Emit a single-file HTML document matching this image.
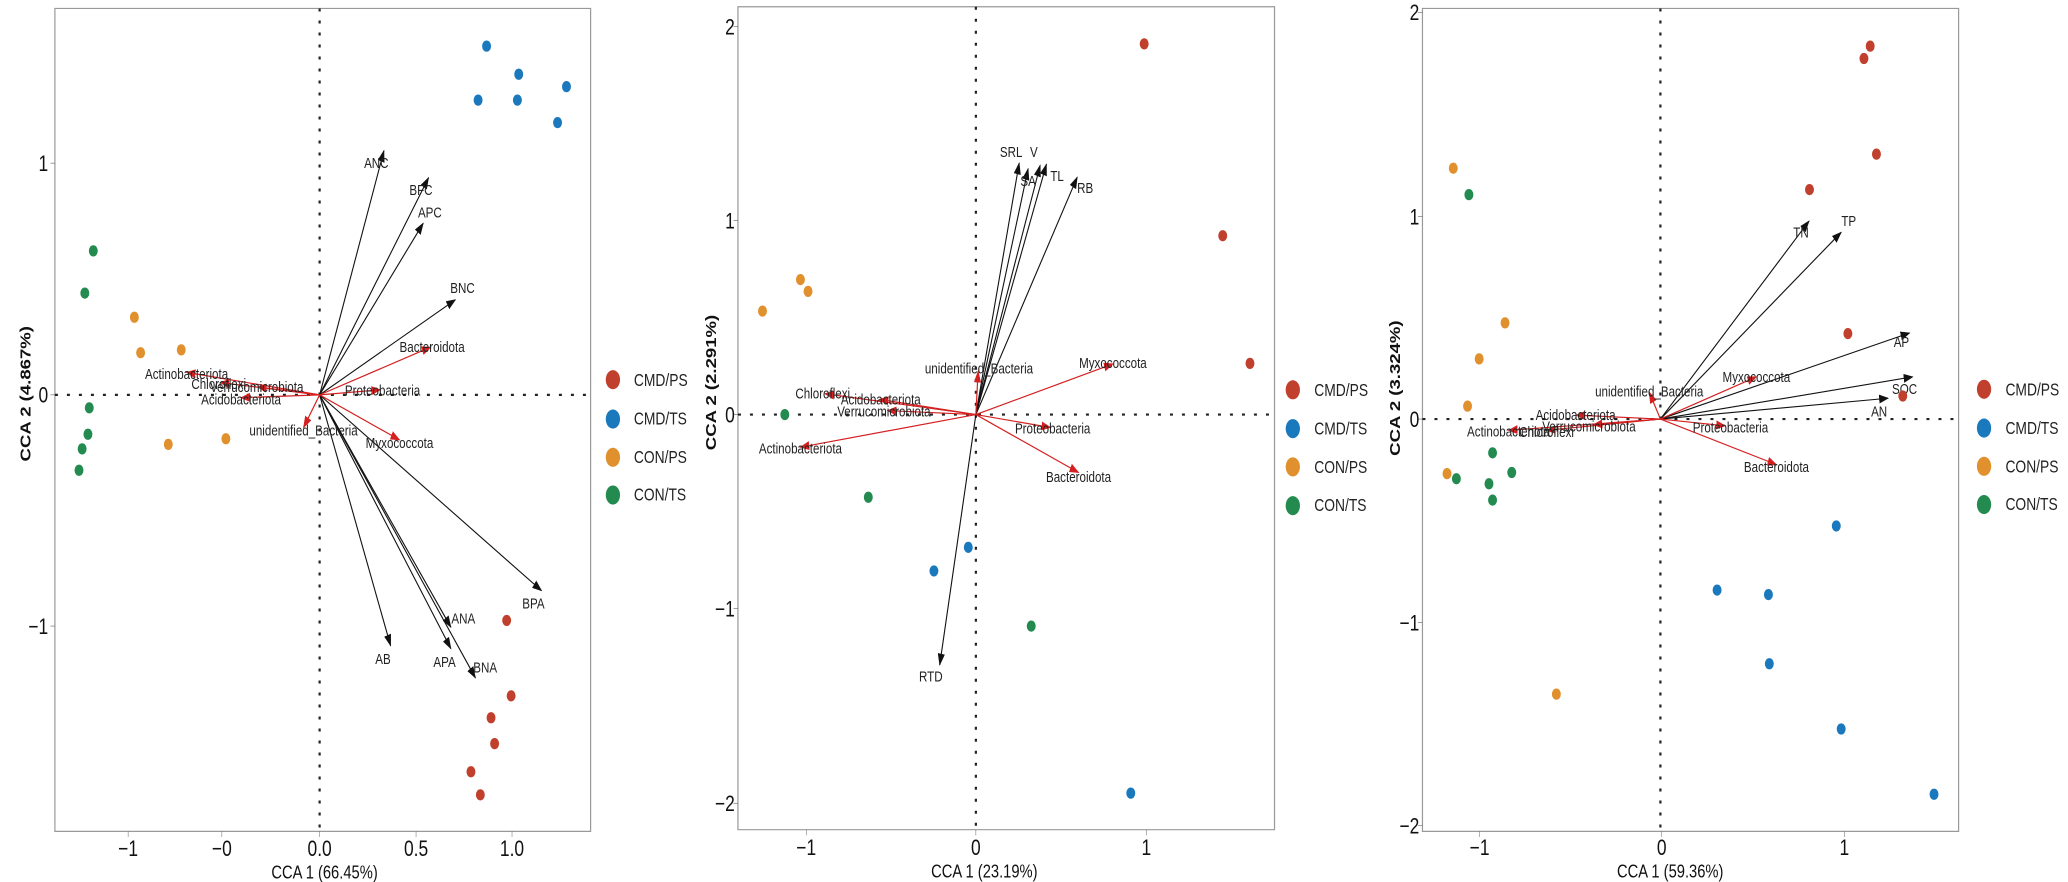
<!DOCTYPE html>
<html><head><meta charset="utf-8"><style>
html,body{margin:0;padding:0;background:#fff;}
svg{display:block;font-family:"Liberation Sans",Arial,sans-serif;}
.bx{fill:none;stroke:#999;stroke-width:1.2;vector-effect:non-scaling-stroke;}
.z{stroke:#222;stroke-width:2.2;stroke-dasharray:3 9;vector-effect:non-scaling-stroke;}
.ba{stroke:#111;stroke-width:1.1;vector-effect:non-scaling-stroke;marker-end:url(#ab);}
.ra{stroke:#d42020;stroke-width:1.2;vector-effect:non-scaling-stroke;marker-end:url(#ar);}
.lb{font-size:26px;fill:#222;text-anchor:middle;dominant-baseline:central;}
.tk{font-size:39px;fill:#111;}
.tt{font-size:33px;fill:#111;text-anchor:middle;}
.yt{font-weight:bold;}
.lg{font-size:31px;fill:#222;dominant-baseline:central;}
.tm{stroke:#555;stroke-width:1;vector-effect:non-scaling-stroke;}
.r{fill:#c0402d}.b{fill:#1a78bd}.o{fill:#e0902c}.g{fill:#238a50}
</style></head><body>
<svg width="2068" height="882" viewBox="0 0 2068 882" xmlns="http://www.w3.org/2000/svg">
<defs>
<marker id="ab" markerUnits="userSpaceOnUse" markerWidth="22" markerHeight="16" refX="20" refY="8" orient="auto"><path d="M0,0 L22,8 L0,16 z" fill="#111"/></marker>
<marker id="ar" markerUnits="userSpaceOnUse" markerWidth="22" markerHeight="16" refX="20" refY="8" orient="auto"><path d="M0,0 L22,8 L0,16 z" fill="#d42020"/></marker>
</defs>

<!-- PANEL 1 -->
<g transform="translate(0,0) scale(0.4464,0.5625)">
<rect class="bx" x="123" y="15" width="1200" height="1463"/>
<line class="z" x1="716" y1="15" x2="716" y2="1478"/>
<line class="z" x1="123" y1="702" x2="1323" y2="702"/>
<g class="tm"><line x1="287" y1="1478" x2="287" y2="1488"/><line x1="497" y1="1478" x2="497" y2="1488"/><line x1="716" y1="1478" x2="716" y2="1488"/><line x1="932" y1="1478" x2="932" y2="1488"/><line x1="1147" y1="1478" x2="1147" y2="1488"/>
<line x1="113" y1="290" x2="123" y2="290"/><line x1="113" y1="702" x2="123" y2="702"/><line x1="113" y1="1113" x2="123" y2="1113"/></g>
<g class="tk" text-anchor="middle"><text x="287" y="1522">−1</text><text x="497" y="1522">−0</text><text x="716" y="1522">0.0</text><text x="932" y="1522">0.5</text><text x="1147" y="1522">1.0</text></g>
<g class="tk" text-anchor="end"><text x="108" y="304">1</text><text x="108" y="716">0</text><text x="108" y="1127">−1</text></g>
<text class="tt" x="727" y="1562">CCA 1 (66.45%)</text>
<text class="tt yt" transform="translate(68,700) rotate(-90)">CCA 2 (4.867%)</text>
<g>
<line class="ba" x1="716" y1="702" x2="860" y2="268"/><line class="ba" x1="716" y1="702" x2="960" y2="316"/><line class="ba" x1="716" y1="702" x2="948" y2="397"/><line class="ba" x1="716" y1="702" x2="1020" y2="533"/><line class="ba" x1="716" y1="702" x2="1213" y2="1050"/><line class="ba" x1="716" y1="702" x2="1010" y2="1115"/><line class="ba" x1="716" y1="702" x2="1010" y2="1153"/><line class="ba" x1="716" y1="702" x2="1065" y2="1205"/><line class="ba" x1="716" y1="702" x2="875" y2="1148"/>
<line class="ra" x1="716" y1="702" x2="965" y2="617"/><line class="ra" x1="716" y1="702" x2="852" y2="693"/><line class="ra" x1="716" y1="702" x2="895" y2="782"/><line class="ra" x1="716" y1="702" x2="680" y2="760"/><line class="ra" x1="716" y1="702" x2="418" y2="662"/><line class="ra" x1="716" y1="702" x2="493" y2="680"/><line class="ra" x1="716" y1="702" x2="577" y2="688"/><line class="ra" x1="716" y1="702" x2="540" y2="707"/>
</g>
<g class="lb"><text x="843" y="290">ANC</text><text x="943" y="338">BFC</text><text x="963" y="378">APC</text><text x="1036" y="512">BNC</text><text x="1195" y="1073">BPA</text><text x="1038" y="1100">ANA</text><text x="996" y="1177">APA</text><text x="1087" y="1187">BNA</text><text x="858" y="1172">AB</text>
<text x="968" y="617">Bacteroidota</text><text x="857" y="694">Proteobacteria</text><text x="895" y="788">Myxococcota</text><text x="680" y="765">unidentified_Bacteria</text><text x="418" y="665">Actinobacteriota</text><text x="490" y="683">Chloroflexi</text><text x="575" y="688">Verrucomicrobiota</text><text x="540" y="710">Acidobacteriota</text></g>
<g>
<ellipse class="b" cx="1090" cy="82" rx="10" ry="10"/><ellipse class="b" cx="1162" cy="132" rx="10" ry="10"/><ellipse class="b" cx="1269" cy="154" rx="10" ry="10"/><ellipse class="b" cx="1071" cy="178" rx="10" ry="10"/><ellipse class="b" cx="1159" cy="178" rx="10" ry="10"/><ellipse class="b" cx="1249" cy="218" rx="10" ry="10"/>
<ellipse class="g" cx="209" cy="446" rx="10" ry="10"/><ellipse class="g" cx="190" cy="521" rx="10" ry="10"/><ellipse class="g" cx="200" cy="725" rx="10" ry="10"/><ellipse class="g" cx="197" cy="772" rx="10" ry="10"/><ellipse class="g" cx="184" cy="798" rx="10" ry="10"/><ellipse class="g" cx="177" cy="836" rx="10" ry="10"/>
<ellipse class="o" cx="301" cy="564" rx="10" ry="10"/><ellipse class="o" cx="315" cy="627" rx="10" ry="10"/><ellipse class="o" cx="406" cy="622" rx="10" ry="10"/><ellipse class="o" cx="377" cy="790" rx="10" ry="10"/><ellipse class="o" cx="506" cy="780" rx="10" ry="10"/>
<ellipse class="r" cx="1135" cy="1103" rx="10" ry="10"/><ellipse class="r" cx="1145" cy="1237" rx="10" ry="10"/><ellipse class="r" cx="1100" cy="1276" rx="10" ry="10"/><ellipse class="r" cx="1108" cy="1322" rx="10" ry="10"/><ellipse class="r" cx="1055" cy="1372" rx="10" ry="10"/><ellipse class="r" cx="1076" cy="1413" rx="10" ry="10"/>
</g>
<ellipse class="r" cx="1373" cy="675" rx="16" ry="17"/><ellipse class="b" cx="1373" cy="745" rx="16" ry="17"/><ellipse class="o" cx="1373" cy="813" rx="16" ry="17"/><ellipse class="g" cx="1373" cy="880" rx="16" ry="17"/>
<g class="lg"><text x="1420" y="677">CMD/PS</text><text x="1420" y="746">CMD/TS</text><text x="1420" y="814">CON/PS</text><text x="1420" y="881">CON/TS</text></g>
</g>

<!-- PANEL 2 -->
<g transform="translate(700,0) scale(0.4464,0.5625)">
<rect class="bx" x="85" y="12" width="1202" height="1463"/>
<line class="z" x1="618" y1="12" x2="618" y2="1475"/>
<line class="z" x1="85" y1="737" x2="1287" y2="737"/>
<g class="tm"><line x1="238" y1="1475" x2="238" y2="1485"/><line x1="618" y1="1475" x2="618" y2="1485"/><line x1="1000" y1="1475" x2="1000" y2="1485"/>
<line x1="75" y1="47" x2="85" y2="47"/><line x1="75" y1="392" x2="85" y2="392"/><line x1="75" y1="737" x2="85" y2="737"/><line x1="75" y1="1082" x2="85" y2="1082"/><line x1="75" y1="1428" x2="85" y2="1428"/></g>
<g class="tk" text-anchor="middle"><text x="238" y="1520">−1</text><text x="618" y="1520">0</text><text x="1000" y="1520">1</text></g>
<g class="tk" text-anchor="end"><text x="78" y="61">2</text><text x="78" y="406">1</text><text x="78" y="751">0</text><text x="78" y="1096">−1</text><text x="78" y="1442">−2</text></g>
<text class="tt" x="637" y="1560">CCA 1 (23.19%)</text>
<text class="tt yt" transform="translate(36,680) rotate(-90)">CCA 2 (2.291%)</text>
<g>
<line class="ba" x1="618" y1="737" x2="715" y2="290"/><line class="ba" x1="618" y1="737" x2="735" y2="300"/><line class="ba" x1="618" y1="737" x2="762" y2="294"/><line class="ba" x1="618" y1="737" x2="776" y2="292"/><line class="ba" x1="618" y1="737" x2="845" y2="315"/><line class="ba" x1="618" y1="737" x2="537" y2="1182"/>
<line class="ra" x1="618" y1="737" x2="623" y2="660"/><line class="ra" x1="618" y1="737" x2="925" y2="647"/><line class="ra" x1="618" y1="737" x2="280" y2="700"/><line class="ra" x1="618" y1="737" x2="402" y2="710"/><line class="ra" x1="618" y1="737" x2="420" y2="730"/><line class="ra" x1="618" y1="737" x2="225" y2="795"/><line class="ra" x1="618" y1="737" x2="785" y2="760"/><line class="ra" x1="618" y1="737" x2="848" y2="840"/>
</g>
<g class="lb"><text x="697" y="270">SRL</text><text x="748" y="270">V</text><text x="735" y="322">SA</text><text x="800" y="313">TL</text><text x="863" y="334">RB</text><text x="517" y="1203">RTD</text>
<text x="625" y="655">unidentified_Bacteria</text><text x="925" y="645">Myxococcota</text><text x="275" y="700">Chloroflexi</text><text x="405" y="710">Acidobacteriota</text><text x="412" y="732">Verrucomicrobiota</text><text x="225" y="797">Actinobacteriota</text><text x="790" y="762">Proteobacteria</text><text x="848" y="848">Bacteroidota</text></g>
<g>
<ellipse class="r" cx="995" cy="78" rx="10" ry="10"/><ellipse class="r" cx="1171" cy="419" rx="10" ry="10"/><ellipse class="r" cx="1232" cy="646" rx="10" ry="10"/>
<ellipse class="o" cx="225" cy="497" rx="10" ry="10"/><ellipse class="o" cx="242" cy="518" rx="10" ry="10"/><ellipse class="o" cx="140" cy="553" rx="10" ry="10"/>
<ellipse class="g" cx="190" cy="737" rx="10" ry="10"/><ellipse class="g" cx="377" cy="884" rx="10" ry="10"/><ellipse class="g" cx="742" cy="1113" rx="10" ry="10"/>
<ellipse class="b" cx="601" cy="973" rx="10" ry="10"/><ellipse class="b" cx="524" cy="1015" rx="10" ry="10"/><ellipse class="b" cx="965" cy="1410" rx="10" ry="10"/>
</g>
<ellipse class="r" cx="1328" cy="693" rx="16" ry="17"/><ellipse class="b" cx="1328" cy="762" rx="16" ry="17"/><ellipse class="o" cx="1328" cy="830" rx="16" ry="17"/><ellipse class="g" cx="1328" cy="899" rx="16" ry="17"/>
<g class="lg"><text x="1376" y="695">CMD/PS</text><text x="1376" y="764">CMD/TS</text><text x="1376" y="832">CON/PS</text><text x="1376" y="900">CON/TS</text></g>
</g>

<!-- PANEL 3 -->
<g transform="translate(1368,0) scale(0.4464,0.5625)">
<rect class="bx" x="122" y="15" width="1201" height="1463"/>
<line class="z" x1="655" y1="15" x2="655" y2="1478"/>
<line class="z" x1="122" y1="745" x2="1323" y2="745"/>
<g class="tm"><line x1="250" y1="1478" x2="250" y2="1488"/><line x1="658" y1="1478" x2="658" y2="1488"/><line x1="1067" y1="1478" x2="1067" y2="1488"/>
<line x1="112" y1="22" x2="122" y2="22"/><line x1="112" y1="385" x2="122" y2="385"/><line x1="112" y1="745" x2="122" y2="745"/><line x1="112" y1="1107" x2="122" y2="1107"/><line x1="112" y1="1468" x2="122" y2="1468"/></g>
<g class="tk" text-anchor="middle"><text x="250" y="1520">−1</text><text x="658" y="1520">0</text><text x="1067" y="1520">1</text></g>
<g class="tk" text-anchor="end"><text x="115" y="36">2</text><text x="115" y="399">1</text><text x="115" y="759">0</text><text x="115" y="1121">−1</text><text x="115" y="1482">−2</text></g>
<text class="tt" x="677" y="1560">CCA 1 (59.36%)</text>
<text class="tt yt" transform="translate(72,690) rotate(-90)">CCA 2 (3.324%)</text>
<g>
<line class="ba" x1="655" y1="745" x2="988" y2="393"/><line class="ba" x1="655" y1="745" x2="1060" y2="413"/><line class="ba" x1="655" y1="745" x2="1213" y2="592"/><line class="ba" x1="655" y1="745" x2="1220" y2="670"/><line class="ba" x1="655" y1="745" x2="1165" y2="708"/>
<line class="ra" x1="655" y1="745" x2="630" y2="697"/><line class="ra" x1="655" y1="745" x2="870" y2="670"/><line class="ra" x1="655" y1="745" x2="466" y2="738"/><line class="ra" x1="655" y1="745" x2="505" y2="755"/><line class="ra" x1="655" y1="745" x2="400" y2="765"/><line class="ra" x1="655" y1="745" x2="315" y2="765"/><line class="ra" x1="655" y1="745" x2="800" y2="757"/><line class="ra" x1="655" y1="745" x2="915" y2="826"/>
</g>
<g class="lb"><text x="970" y="413">TN</text><text x="1077" y="393">TP</text><text x="1195" y="608">AP</text><text x="1202" y="692">SOC</text><text x="1145" y="732">AN</text>
<text x="630" y="696">unidentified_Bacteria</text><text x="870" y="670">Myxococcota</text><text x="465" y="738">Acidobacteriota</text><text x="495" y="758">Verrucomicrobiota</text><text x="400" y="768">Chloroflexi</text><text x="315" y="767">Actinobacteriota</text><text x="812" y="760">Proteobacteria</text><text x="915" y="830">Bacteroidota</text></g>
<g>
<ellipse class="r" cx="1125" cy="82" rx="10" ry="10"/><ellipse class="r" cx="1111" cy="104" rx="10" ry="10"/><ellipse class="r" cx="1139" cy="274" rx="10" ry="10"/><ellipse class="r" cx="989" cy="337" rx="10" ry="10"/><ellipse class="r" cx="1075" cy="593" rx="10" ry="10"/><ellipse class="r" cx="1198" cy="704" rx="10" ry="10"/>
<ellipse class="o" cx="191" cy="299" rx="10" ry="10"/><ellipse class="o" cx="307" cy="574" rx="10" ry="10"/><ellipse class="o" cx="249" cy="638" rx="10" ry="10"/><ellipse class="o" cx="223" cy="722" rx="10" ry="10"/><ellipse class="o" cx="177" cy="842" rx="10" ry="10"/><ellipse class="o" cx="422" cy="1234" rx="10" ry="10"/>
<ellipse class="g" cx="226" cy="346" rx="10" ry="10"/><ellipse class="g" cx="279" cy="805" rx="10" ry="10"/><ellipse class="g" cx="322" cy="840" rx="10" ry="10"/><ellipse class="g" cx="198" cy="851" rx="10" ry="10"/><ellipse class="g" cx="271" cy="860" rx="10" ry="10"/><ellipse class="g" cx="279" cy="889" rx="10" ry="10"/>
<ellipse class="b" cx="1049" cy="935" rx="10" ry="10"/><ellipse class="b" cx="782" cy="1049" rx="10" ry="10"/><ellipse class="b" cx="897" cy="1057" rx="10" ry="10"/><ellipse class="b" cx="899" cy="1180" rx="10" ry="10"/><ellipse class="b" cx="1060" cy="1296" rx="10" ry="10"/><ellipse class="b" cx="1268" cy="1412" rx="10" ry="10"/>
</g>
<ellipse class="r" cx="1380" cy="692" rx="16" ry="17"/><ellipse class="b" cx="1380" cy="761" rx="16" ry="17"/><ellipse class="o" cx="1380" cy="829" rx="16" ry="17"/><ellipse class="g" cx="1380" cy="897" rx="16" ry="17"/>
<g class="lg"><text x="1428" y="694">CMD/PS</text><text x="1428" y="763">CMD/TS</text><text x="1428" y="831">CON/PS</text><text x="1428" y="898">CON/TS</text></g>
</g>
</svg>
</body></html>
